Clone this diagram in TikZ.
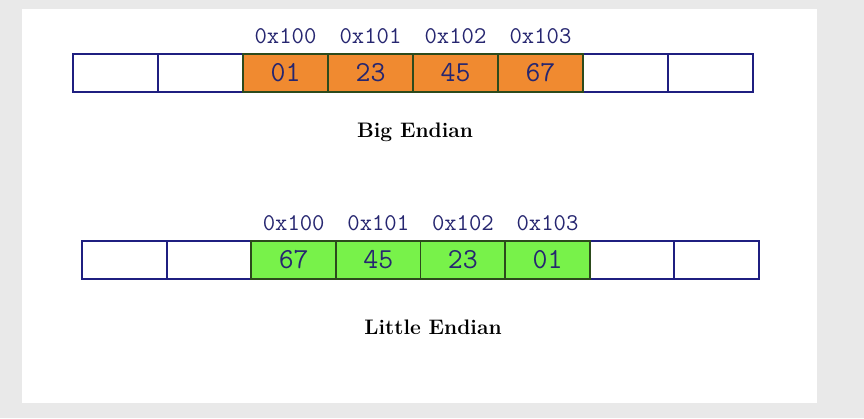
\documentclass[tikz,border=0pt]{standalone}
\usepackage{fontspec}
\usetikzlibrary{positioning}
\definecolor{bggray}{HTML}{E9E9E9}
\definecolor{cellblue}{HTML}{1F1F80}
\definecolor{cellgreen}{HTML}{2C4A1C}
\definecolor{bigorange}{HTML}{F08A30}
\definecolor{littlegreen}{HTML}{78F24A}
\definecolor{addrblue}{HTML}{262670}
\tikzset{
    cell/.style={draw=cellblue, line width=1.8pt, fill=white, minimum width=85pt,
        minimum height=38pt, inner sep=0pt, outer sep=0pt},
    bytecell/.style={cell, draw=cellgreen, text=addrblue,
        font=\ttfamily\fontsize{29}{29}\selectfont},
    addr/.style={text=addrblue, inner sep=0pt, font=\ttfamily\fontsize{24}{24}\selectfont},
    caption/.style={font=\bfseries\fontsize{21}{21}\selectfont}
}

\begin{document}
\begin{tikzpicture}[x=1pt, y=-1pt]
        % Background
        \fill [bggray] (0, 0) rectangle (864, 418);
        \fill [white] (22, 9) rectangle (817, 403);
        \useasboundingbox (0, 0) rectangle (864, 418);
        % Big endian cells
        \foreach \i in {0, 1, 6, 7}
            \node [cell] (big\i) at ({115.5+85*\i}, 73) {};
        \foreach \v [count=\i from 2] in {01, 23, 45, 67}
            \node [bytecell, fill=bigorange] (big\i) at ({115.5+85*\i}, 73) {\v};
        % Little endian cells
        \foreach \i in {0, 1, 6, 7}
            \node [cell] (little\i) at ({124.5+84.6*\i}, 260) {};
        \foreach \v [count=\i from 2] in {67, 45, 23, 01}
            \node [bytecell, fill=littlegreen] (little\i) at ({124.5+84.6*\i}, 260) {\v};
        % Addresses
        \foreach \a [count=\i from 2] in {0x100, 0x101, 0x102, 0x103} {
            \node [addr, above=10pt of big\i] {\a};
            \node [addr, above=10pt of little\i] {\a};
        }
        % Captions
        \node [caption] (bigcap) at (415, 132) {Big Endian};
        \node [caption] (littlecap) at (433, 327) {Little Endian};
    \end{tikzpicture}
\end{document}
